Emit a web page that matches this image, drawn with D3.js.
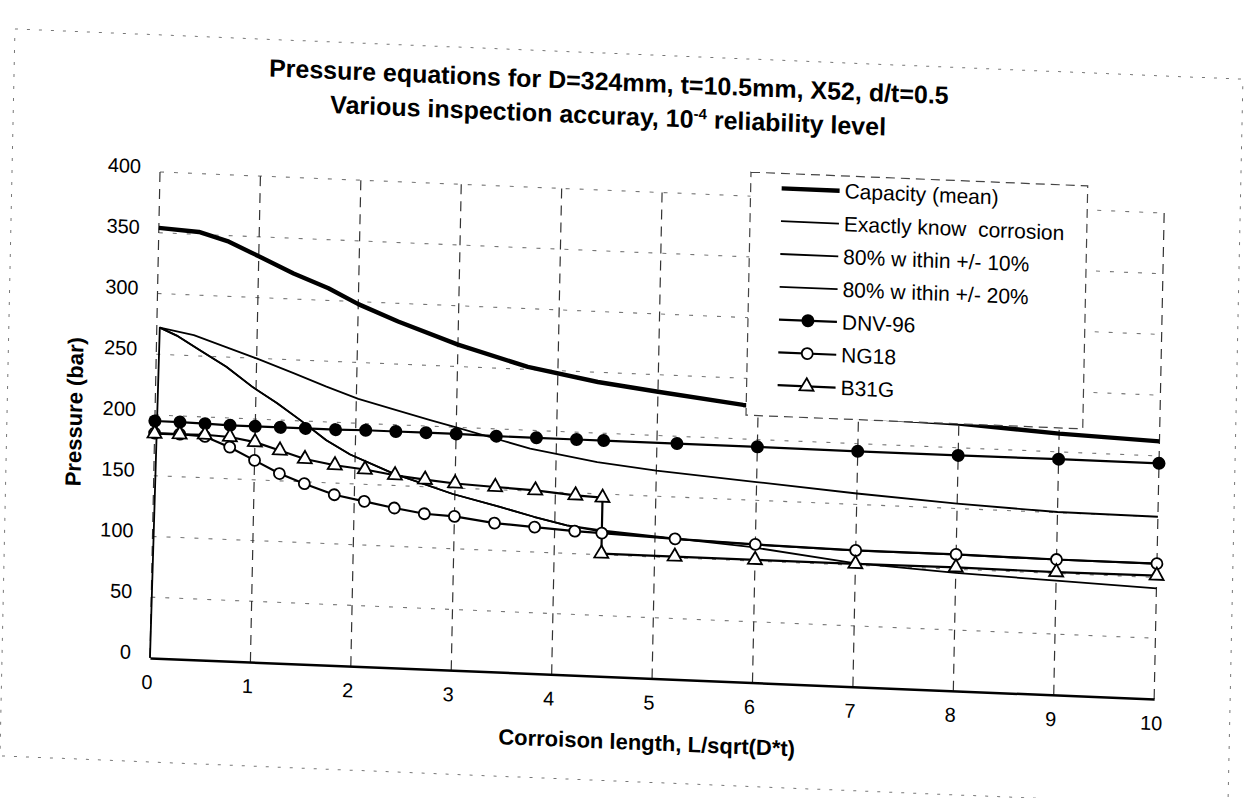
<!doctype html>
<html>
<head>
<meta charset="utf-8">
<title>Pressure equations</title>
<script src="https://cdnjs.cloudflare.com/ajax/libs/d3/7.8.5/d3.min.js"></script>
<style>
  body { margin: 0; background: #fff; }
  svg text { font-family: "Liberation Sans", Arial, sans-serif; fill: #000; }
</style>
</head>
<body>
<div id="chart"></div>
<script>
// values
const xTicks = [0, 1, 2, 3, 4, 5, 6, 7, 8, 9, 10];
const yTicks = [0, 50, 100, 150, 200, 250, 300, 350, 400];

const capX = [0, 0.4, 0.7, 1.0, 1.35, 1.7, 2.0, 2.4, 3.0, 3.7, 4.4, 5.0, 5.85, 7, 8, 9, 10];
const capY = [354, 352, 345, 334, 321, 310, 298, 285, 268, 252, 242, 236, 228, 222, 220, 215, 212];

const exactX = [0, 0.03, 0.37, 0.7, 1.03, 1.37, 1.7, 2.02, 2.4, 2.74, 3.0, 3.44, 3.74, 4.41, 5.0, 6, 7, 8, 9, 10];
const exactY = [0, 272, 267, 258, 249, 239, 229, 220, 212, 205, 200, 191, 185, 176, 171, 165, 159, 154, 150.5, 150];

const p10X = [0.03, 0.2, 0.43, 0.7, 0.97, 1.21, 1.44, 1.71, 1.95, 2.38, 2.98, 3.45, 3.79, 4.12, 4.47, 5.2, 6, 7, 8, 9, 10];
const p10Y = [272, 266, 255, 242, 226, 214, 201, 185, 174, 160, 145, 136, 129, 123, 119, 115.5, 113.5, 112, 112, 111.3, 111.3];

const p20X = [0.03, 0.2, 0.43, 0.7, 0.97, 1.21, 1.44, 1.71, 1.95, 2.38, 2.98, 3.45, 3.79, 4.12, 4.47, 5.95, 6.97, 8, 9, 10];
const p20Y = [272, 266, 255, 242, 226, 214, 201, 185, 174, 160, 145, 136, 129, 123, 120, 111.5, 101.7, 97, 94, 91];

const markX = [0, 0.25, 0.5, 0.75, 1, 1.25, 1.5, 1.8, 2.1, 2.4, 2.7, 3.0, 3.4, 3.8, 4.2, 4.47, 5.2, 6, 7, 8, 9, 10];
const dnvY  = [195, 195, 194.5, 194, 194, 194, 194, 194, 194.5, 194.5, 194.5, 194.5, 194, 194, 194, 194, 194, 194, 193.7, 193.7, 194, 194];
const ng18Y = [185, 185, 184, 176, 166, 156, 148.5, 140.4, 136, 131.5, 127.8, 126.6, 122.5, 120.5, 118.5, 117.8, 115.6, 113.7, 112.1, 112.2, 111.4, 111.4];

const b31gX = [0, 0.25, 0.5, 0.75, 1, 1.25, 1.5, 1.8, 2.1, 2.4, 2.7, 3.0, 3.4, 3.8, 4.2, 4.47, 4.47, 5.2, 6, 7, 8, 9, 10];
const b31gY = [184.7, 184.9, 185.4, 184.4, 181, 175, 168.8, 164.7, 162.2, 158.5, 155.9, 153.7, 152.2, 150.8, 148, 147, 101, 101, 101, 101, 101.5, 101, 101.5];

const seriesNames = ['Capacity (mean)', 'Exactly know  corrosion', '80% w ithin +/- 10%', '80% w ithin +/- 20%', 'DNV-96', 'NG18', 'B31G'];

const width = 1245, height = 798;
const W = 1005, H = 486;

const svg = d3.select('#chart').append('svg')
  .attr('width', width)
  .attr('height', height);

// the scan is a little rotated and sheared, so everything sits in one skewed group
const g = svg.append('g')
  .attr('transform', 'matrix(0.99917,0.04084,-0.0206,0.9998,160,172)');

const x = d3.scaleLinear().domain([0, 10]).range([0, W]);
const y = d3.scaleLinear().domain([0, 400]).range([H, 0]);

// chart area border (dashed in the scan)
g.append('rect')
  .attr('x', -148).attr('y', -137)
  .attr('width', 1229).attr('height', 727)
  .attr('fill', 'none')
  .attr('stroke', '#777')
  .attr('stroke-width', 1)
  .attr('stroke-dasharray', '3,9');

// grid
g.append('g')
  .selectAll('line')
  .data(yTicks.filter(d => d > 0))
  .join('line')
  .attr('x1', 0).attr('x2', W)
  .attr('y1', d => y(d)).attr('y2', d => y(d))
  .attr('stroke', '#777')
  .attr('stroke-width', 1.1)
  .attr('stroke-dasharray', '4,10');

g.append('g')
  .selectAll('line')
  .data(xTicks)
  .join('line')
  .attr('x1', d => x(d)).attr('x2', d => x(d))
  .attr('y1', 0).attr('y2', H)
  .attr('stroke', '#333')
  .attr('stroke-width', 1.2)
  .attr('stroke-dasharray', '10,7');

// axes
const yAxis = g.append('g')
  .call(d3.axisLeft(y).tickValues(yTicks).tickSize(0).tickPadding(19));
yAxis.select('.domain').remove();
yAxis.selectAll('text')
  .attr('font-size', 20)
  .attr('y', -5)
  .style('font-family', '"Liberation Sans", Arial, sans-serif');

const xAxis = g.append('g')
  .attr('transform', `translate(0,${H})`)
  .call(d3.axisBottom(x).tickValues(xTicks).tickSize(0).tickPadding(17));
xAxis.select('.domain').attr('stroke', '#000').attr('stroke-width', 2.5);
xAxis.selectAll('text')
  .attr('font-size', 20)
  .attr('x', -3)
  .style('font-family', '"Liberation Sans", Arial, sans-serif');

// series lines
const line = d3.line().x(d => x(d[0])).y(d => y(d[1]));
const zip = (xs, ys) => xs.map((v, i) => [v, ys[i]]);

const curves = [
  { pts: zip(capX, capY), w: 4.4 },
  { pts: zip(exactX, exactY), w: 1.8 },
  { pts: zip(p10X, p10Y), w: 1.8 },
  { pts: zip(p20X, p20Y), w: 1.8 },
  { pts: zip(markX, dnvY), w: 2.2 },
  { pts: zip(markX, ng18Y), w: 2.2 },
  { pts: zip(b31gX, b31gY), w: 2.2 }
];

g.append('g')
  .selectAll('path')
  .data(curves)
  .join('path')
  .attr('d', d => line(d.pts))
  .attr('fill', 'none')
  .attr('stroke', '#000')
  .attr('stroke-width', d => d.w)
  .attr('stroke-linejoin', 'round');

// markers
g.append('g')
  .selectAll('circle')
  .data(zip(markX, dnvY))
  .join('circle')
  .attr('cx', d => x(d[0])).attr('cy', d => y(d[1]))
  .attr('r', 6.5)
  .attr('fill', '#000');

g.append('g')
  .selectAll('circle')
  .data(zip(markX, ng18Y))
  .join('circle')
  .attr('cx', d => x(d[0])).attr('cy', d => y(d[1]))
  .attr('r', 5.5)
  .attr('fill', '#fff')
  .attr('stroke', '#000')
  .attr('stroke-width', 1.8);

const tri = d3.symbol(d3.symbolTriangle, 85);
g.append('g')
  .selectAll('path')
  .data(zip(b31gX, b31gY))
  .join('path')
  .attr('transform', d => `translate(${x(d[0])},${y(d[1])})`)
  .attr('d', tri)
  .attr('fill', '#fff')
  .attr('stroke', '#000')
  .attr('stroke-width', 1.8);

// legend
const lg = g.append('g').attr('transform', 'translate(591,-24)');
lg.append('rect')
  .attr('width', 337).attr('height', 243)
  .attr('fill', '#fff')
  .attr('stroke', '#444')
  .attr('stroke-width', 1.2)
  .attr('stroke-dasharray', '9,6');

const rows = lg.selectAll('g.row')
  .data(seriesNames)
  .join('g')
  .attr('class', 'row')
  .attr('transform', (d, i) => `translate(0,${15 + i * 32.8})`);

rows.append('line')
  .attr('x1', 31).attr('x2', 89)
  .attr('stroke', '#000')
  .attr('stroke-width', (d, i) => i === 0 ? 4.4 : (i > 3 ? 2.2 : 1.8));

rows.filter((d, i) => i === 4).append('circle')
  .attr('cx', 60).attr('r', 6.5).attr('fill', '#000');
rows.filter((d, i) => i === 5).append('circle')
  .attr('cx', 60).attr('r', 5.5).attr('fill', '#fff')
  .attr('stroke', '#000').attr('stroke-width', 1.8);
rows.filter((d, i) => i === 6).append('path')
  .attr('transform', 'translate(60,0)')
  .attr('d', tri)
  .attr('fill', '#fff').attr('stroke', '#000').attr('stroke-width', 1.8);

rows.append('text')
  .attr('x', 94)
  .attr('dy', '0.35em')
  .attr('font-size', 21)
  .style('white-space', 'pre')
  .text(d => d);

// titles
g.append('text')
  .attr('x', 447)
  .attr('y', -100)
  .attr('text-anchor', 'middle')
  .attr('font-size', 25)
  .attr('font-weight', 'bold')
  .text('Pressure equations for D=324mm, t=10.5mm, X52, d/t=0.5');

const sub = g.append('text')
  .attr('x', 447)
  .attr('y', -66)
  .attr('text-anchor', 'middle')
  .attr('font-size', 25)
  .attr('font-weight', 'bold');
sub.append('tspan').text('Various inspection accuray, 10');
sub.append('tspan').attr('dy', -9).attr('font-size', 15).text('-4');
sub.append('tspan').attr('dy', 9).text(' reliability level');

g.append('text')
  .attr('x', W / 2 - 4)
  .attr('y', 558)
  .attr('text-anchor', 'middle')
  .attr('font-size', 22)
  .attr('font-weight', 'bold')
  .text('Corroison length, L/sqrt(D*t)');

g.append('text')
  .attr('transform', 'translate(-73,243) rotate(-90)')
  .attr('text-anchor', 'middle')
  .attr('font-size', 22)
  .attr('font-weight', 'bold')
  .text('Pressure (bar)');
</script>
</body>
</html>
